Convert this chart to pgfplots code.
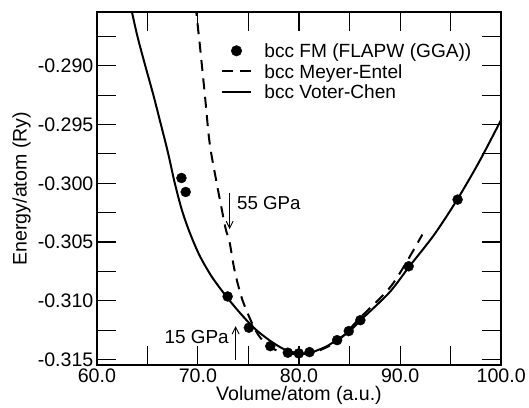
\documentclass[border=0pt]{standalone}
\usepackage{fontspec}
\setmainfont{Liberation Sans}
\usepackage{pgfplots}
\pgfplotsset{compat=1.18}
\usetikzlibrary{arrows.meta}
\begin{document}
\begin{tikzpicture}
\begin{axis}[
  at={(0,0)}, anchor=south west,
  scale only axis, width=405bp, height=354bp,
  axis on top,
  xmin=60, xmax=100, ymin=-0.31551, ymax=-0.28541,
  xtick={60,70,80,90,100},
  minor xtick={65,75,85,95},
  ytick={-0.315,-0.310,-0.305,-0.300,-0.295,-0.290},
  minor ytick={-0.3125,-0.3075,-0.3025,-0.2975,-0.2925,-0.2875},
  scaled x ticks=false, scaled y ticks=false,
  tick align=inside, tick pos=both,
  major tick length=19bp, minor tick length=19bp,
  major tick style={black, line width=1.1bp},
  minor tick style={black, line width=1.1bp},
  axis line style={line width=2bp},
  /pgf/number format/assume math mode=true,
  xticklabel style={/pgf/number format/fixed, /pgf/number format/fixed zerofill, /pgf/number format/precision=1},
  yticklabel style={/pgf/number format/fixed, /pgf/number format/fixed zerofill, /pgf/number format/precision=3},
  tick label style={font=\fontsize{19.7}{22}\selectfont},
  label style={font=\fontsize{19.7}{22}\selectfont},
  xlabel={Volume/atom (a.u.)},
  ylabel={Energy/atom (Ry)},
  xlabel style={at={(axis description cs:0.5,-0.0862)}, anchor=center, inner sep=0pt},
  ylabel style={at={(axis description cs:-0.1859,0.5)}, anchor=center, inner sep=0pt},
  legend style={draw=none, fill=none, inner sep=0pt, at={(rel axis cs:0.3054,0.9161)}, anchor=north west,
    font=\fontsize{19.2}{22}\selectfont, nodes={inner sep=0pt, text height=16bp, text depth=2bp},
    row sep=2.5bp, column sep=12bp},
  legend cell align=left,
]
\addplot[only marks, mark=*, mark size=5bp, black,
  legend image code/.code={\fill[black] (15bp,0bp) circle (5.3bp);}] coordinates {
(68.37,-0.29955) (68.79,-0.30074) (72.94,-0.30964) (75.04,-0.31230) (77.16,-0.31387)
(78.89,-0.31443) (79.98,-0.31449) (81.04,-0.31438) (83.77,-0.31336) (84.92,-0.31259)
(86.07,-0.31166) (90.85,-0.30707) (95.69,-0.30139)
};
\addlegendentry{bcc FM (FLAPW (GGA))}
\addplot[black, line width=2bp, dash pattern=on 11bp off 7.5bp, smooth,
  legend image code/.code={\draw[black, line width=2bp, dash pattern=on 11bp off 7.5bp] (0bp,0bp) -- (30bp,0bp);}] coordinates {
(69.78,-0.28481) (69.85,-0.28552) (70.17,-0.28807) (70.67,-0.29232) (71.16,-0.29657)
(71.85,-0.29995) (72.25,-0.30173) (72.74,-0.30386) (73.14,-0.30505) (73.63,-0.30743)
(74.42,-0.30998) (75.70,-0.31253) (76.79,-0.31372) (78.07,-0.31432) (80.05,-0.31457)
(82.02,-0.31423) (84.00,-0.31330) (85.98,-0.31151) (89.23,-0.30862) (92.20,-0.30437)
};
\addlegendentry{bcc Meyer-Entel}
\addplot[black, line width=2bp, smooth,
  legend image code/.code={\draw[black, line width=2bp] (0bp,0bp) -- (30bp,0bp);}] coordinates {
(63.26,-0.28456) (63.98,-0.28736) (64.74,-0.28983) (65.56,-0.29238) (66.32,-0.29493)
(67.04,-0.29740) (67.70,-0.29995) (68.40,-0.30224) (69.19,-0.30420) (70.17,-0.30616)
(71.36,-0.30794) (72.74,-0.30956) (74.12,-0.31100) (75.60,-0.31236) (77.09,-0.31338)
(78.57,-0.31415) (80.05,-0.31449) (81.23,-0.31440) (82.72,-0.31389) (83.80,-0.31330)
(84.99,-0.31262) (86.17,-0.31160) (88.94,-0.30930) (90.91,-0.30709) (93.38,-0.30437)
(95.65,-0.30139) (97.83,-0.29816) (100.0,-0.29459) (100.4,-0.29390)
};
\addlegendentry{bcc Voter-Chen}
\draw[line width=0.9bp, -{Straight Barb[length=7bp,width=7bp]}] (axis cs:73.14,-0.30083) -- (axis cs:73.14,-0.30390);
\node[anchor=west, inner sep=0pt, font=\fontsize{18.8}{22}\selectfont] at (axis cs:73.86,-0.30165) {55 GPa};
\draw[line width=0.9bp, -{Straight Barb[length=7bp,width=7bp]}] (axis cs:73.73,-0.31506) -- (axis cs:73.73,-0.31217);
\node[anchor=east, inner sep=0pt, font=\fontsize{19}{22}\selectfont] at (axis cs:73.07,-0.31311) {15 GPa};
\end{axis}
\path (-97bp,-42bp) (432bp,366bp);
\end{tikzpicture}
\end{document}
